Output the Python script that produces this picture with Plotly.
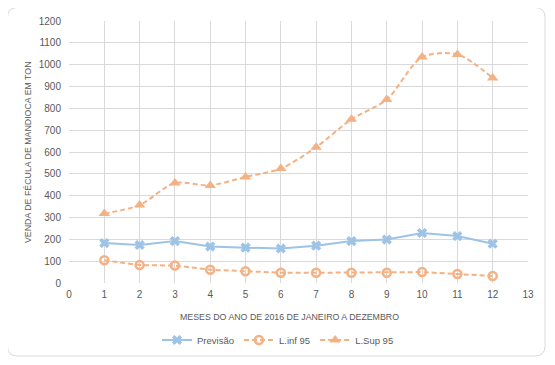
import plotly.graph_objects as go

months = [1, 2, 3, 4, 5, 6, 7, 8, 9, 10, 11, 12]
previsao = [183, 174, 192, 167, 162, 158, 171, 192, 199, 229, 215, 180]
l_inf = [104, 82, 80, 61, 54, 47, 47, 47, 47, 50, 41, 32]
l_sup = [318, 357, 458, 447, 486, 524, 622, 750, 840, 1035, 1047, 939]

blue = "#9DC3E6"
orange = "#F4B183"
gray_text = "#595959"
font_family = "Liberation Sans, Arial"

# page offset of the figure inside the browser page (body margin)
OFF = 8
PL, PR, PT, PB = 69, 528, 21, 283  # plot area in page pixels
W, H = 555 - OFF, 365 - OFF


def px(xp):
    return (xp - PL) / (PR - PL)


def py(yp):
    return (PB - yp) / (PB - PT)


fig = go.Figure()
fig.add_trace(go.Scatter(
    x=months, y=previsao, name="Previsão", mode="lines+markers",
    line=dict(color=blue, width=2),
    marker=dict(symbol="x", size=9, color=blue, line=dict(width=0)),
))
fig.add_trace(go.Scatter(
    x=months, y=l_inf, name="L.inf 95", mode="lines+markers",
    line=dict(color=orange, width=2, dash="5px,3px"),
    marker=dict(symbol="circle-open", size=8, color=orange, line=dict(width=2.5, color=orange)),
))
fig.add_trace(go.Scatter(
    x=months, y=l_sup, name="L.Sup 95", mode="lines+markers",
    line=dict(color=orange, width=2, dash="5px,3px", shape="spline", smoothing=0.8),
    marker=dict(symbol="triangle-up", size=10, color=orange),
))

fig.update_layout(
    width=W, height=H,
    margin=dict(l=PL - OFF, r=W - (PR - OFF), t=PT - OFF, b=H - (PB - OFF), autoexpand=False),
    paper_bgcolor="white", plot_bgcolor="white",
    font=dict(family=font_family, size=10, color=gray_text),
    showlegend=True,
    legend=dict(orientation="h", x=px(278), xanchor="center", y=py(340), yanchor="middle",
                font=dict(size=9.5, color=gray_text), itemwidth=30, tracegroupgap=0),
    xaxis=dict(range=[0, 13], dtick=1, tick0=0, showgrid=True, gridcolor="#D9D9D9",
               zeroline=False, showline=False, ticks="", automargin=False,
               ticklabelstandoff=4, tickfont=dict(size=10, color=gray_text)),
    yaxis=dict(range=[0, 1200], dtick=100, showgrid=True, gridcolor="#D9D9D9",
               zeroline=False, showline=False, ticks="", automargin=False,
               ticklabelstandoff=7, tickfont=dict(size=10, color=gray_text)),
    annotations=[
        dict(text="MESES DO ANO DE 2016 DE JANEIRO A DEZEMBRO", xref="paper", yref="paper",
             x=px(289), y=py(317), xanchor="center", yanchor="middle", showarrow=False,
             font=dict(size=8.8, color=gray_text)),
        dict(text="VENDA DE FÉCULA DE MANDIOCA EM TON", xref="paper", yref="paper",
             x=px(28), y=py(152), xanchor="center", yanchor="middle", showarrow=False,
             textangle=-90, font=dict(size=8.8, color=gray_text)),
    ],
)

# chart frame (rounded rectangle)
r = 10
L, R, T, B = 7.5, 545, 7.5, 356
path = (f"M {px(L + r)},{py(T)} L {px(R - r)},{py(T)} Q {px(R)},{py(T)} {px(R)},{py(T + r)} "
        f"L {px(R)},{py(B - r)} Q {px(R)},{py(B)} {px(R - r)},{py(B)} "
        f"L {px(L + r)},{py(B)} Q {px(L)},{py(B)} {px(L)},{py(B - r)} "
        f"L {px(L)},{py(T + r)} Q {px(L)},{py(T)} {px(L + r)},{py(T)} Z")
fig.add_shape(type="path", xref="paper", yref="paper", path=path,
              line=dict(color="#D9D9D9", width=1), layer="below")

fig.write_html("out.html")
